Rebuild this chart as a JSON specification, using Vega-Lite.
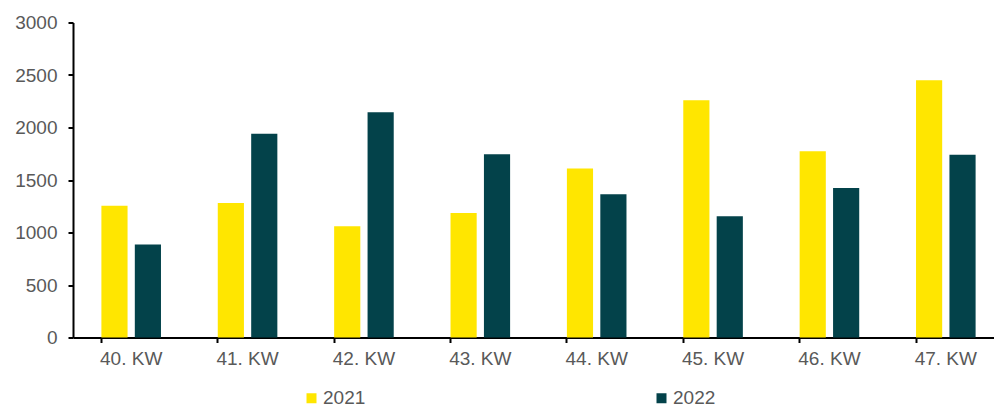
{
  "$schema": "https://vega.github.io/schema/vega-lite/v6.json",
  "autosize": {"type": "none"},
  "width": 921,
  "height": 315,
  "padding": {"left": 73, "top": 22.5, "right": 0, "bottom": 69.5},
  "background": "white",
  "data": {
    "values": [
      {"woche": "40. KW", "jahr": "2021", "wert": 1255},
      {"woche": "40. KW", "jahr": "2022", "wert": 885},
      {"woche": "41. KW", "jahr": "2021", "wert": 1280},
      {"woche": "41. KW", "jahr": "2022", "wert": 1940},
      {"woche": "42. KW", "jahr": "2021", "wert": 1060},
      {"woche": "42. KW", "jahr": "2022", "wert": 2145},
      {"woche": "43. KW", "jahr": "2021", "wert": 1185},
      {"woche": "43. KW", "jahr": "2022", "wert": 1745},
      {"woche": "44. KW", "jahr": "2021", "wert": 1610},
      {"woche": "44. KW", "jahr": "2022", "wert": 1365},
      {"woche": "45. KW", "jahr": "2021", "wert": 2260},
      {"woche": "45. KW", "jahr": "2022", "wert": 1155},
      {"woche": "46. KW", "jahr": "2021", "wert": 1775},
      {"woche": "46. KW", "jahr": "2022", "wert": 1425},
      {"woche": "47. KW", "jahr": "2021", "wert": 2450},
      {"woche": "47. KW", "jahr": "2022", "wert": 1740}
    ]
  },
  "mark": {"type": "bar"},
  "encoding": {
    "x": {
      "field": "woche",
      "type": "nominal",
      "title": null,
      "scale": {"range": [0, 931], "paddingInner": 0.488, "paddingOuter": 0.244},
      "axis": {
        "labelAngle": 0,
        "bandPosition": 0,
        "labelFont": "Liberation Sans",
        "labelFontSize": 19,
        "labelColor": "#595959",
        "labelPadding": 7,
        "domainColor": "#000000",
        "domainWidth": 2,
        "tickColor": "#000000",
        "tickWidth": 2,
        "tickSize": 5,
        "grid": false
      }
    },
    "xOffset": {
      "field": "jahr",
      "type": "nominal",
      "scale": {"paddingInner": 0.217, "paddingOuter": 0}
    },
    "y": {
      "field": "wert",
      "type": "quantitative",
      "title": null,
      "scale": {"domain": [0, 3000], "nice": false},
      "axis": {
        "values": [0, 500, 1000, 1500, 2000, 2500, 3000],
        "format": "d",
        "labelFont": "Liberation Sans",
        "labelFontSize": 19,
        "labelColor": "#595959",
        "labelPadding": 11,
        "domainColor": "#000000",
        "domainWidth": 2,
        "tickColor": "#000000",
        "tickWidth": 2,
        "tickSize": 5,
        "grid": false
      }
    },
    "color": {
      "field": "jahr",
      "type": "nominal",
      "title": null,
      "scale": {"domain": ["2021", "2022"], "range": ["#FFE600", "#03424A"]},
      "legend": {
        "orient": "none",
        "direction": "horizontal",
        "legendX": 229,
        "legendY": 366,
        "symbolType": "square",
        "symbolSize": 100,
        "symbolStrokeWidth": 0,
        "labelFont": "Liberation Sans",
        "labelFontSize": 19,
        "labelColor": "#595959",
        "labelOffset": 2,
        "columnPadding": 286
      }
    }
  },
  "config": {"view": {"stroke": null}}
}
